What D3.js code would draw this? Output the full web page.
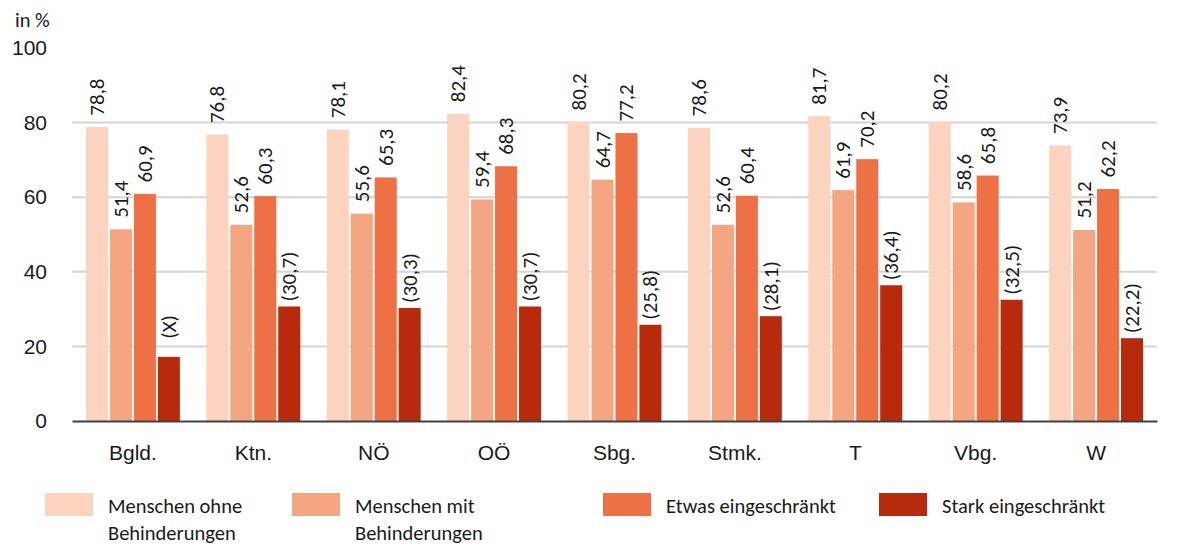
<!DOCTYPE html>
<html>
<head>
<meta charset="utf-8">
<script src="https://cdn.jsdelivr.net/npm/d3@7"></script>
<style>
  body { margin: 0; background: #fff; }
  svg { display: block; font-family: Carlito, Lato, "Open Sans", sans-serif; }
</style>
</head>
<body>
<svg id="chart" width="1197" height="546"></svg>
<script>
const categories = ["Bgld.", "Ktn.", "NÖ", "OÖ", "Sbg.", "Stmk.", "T", "Vbg.", "W"];
const seriesNames = ["Menschen ohne Behinderungen", "Menschen mit Behinderungen", "Etwas eingeschränkt", "Stark eingeschränkt"];
const legendLines = [["Menschen ohne", "Behinderungen"], ["Menschen mit", "Behinderungen"], ["Etwas eingeschränkt"], ["Stark eingeschränkt"]];
const ohne   = [78.8, 76.8, 78.1, 82.4, 80.2, 78.6, 81.7, 80.2, 73.9];
const mit    = [51.4, 52.6, 55.6, 59.4, 64.7, 52.6, 61.9, 58.6, 51.2];
const etwas  = [60.9, 60.3, 65.3, 68.3, 77.2, 60.4, 70.2, 65.8, 62.2];
const stark  = [17.2, 30.7, 30.3, 30.7, 25.8, 28.1, 36.4, 32.5, 22.2];
const starkLabels = ["(X)", "(30,7)", "(30,3)", "(30,7)", "(25,8)", "(28,1)", "(36,4)", "(32,5)", "(22,2)"];
const yTicks = [0, 20, 40, 60, 80, 100];
const colors = ["#FBD3BF", "#F4A582", "#EE7045", "#B72B0C"];

(function () {
const series = [ohne, mit, etwas, stark];
const fmt = v => v.toFixed(1).replace(".", ",");
const labelFor = (si, ci) => si === 3 ? starkLabels[ci] : fmt(series[si][ci]);
const ink = "#1a1a1a";

const svg = d3.select("#chart");
const mLeft = 72, mRight = 1157, mTop = 48, mBottom = 421;

const x = d3.scaleBand().domain(categories).range([mLeft, mRight]).paddingInner(0.22).paddingOuter(0.116);
const xs = d3.scaleBand().domain(d3.range(4)).range([0, x.bandwidth()]).paddingInner(0.08);
const y = d3.scaleLinear().domain([0, 100]).range([mBottom, mTop]);

// gridlines
svg.append("g").selectAll("line").data(yTicks.filter(t => t > 0 && t < 100)).join("line")
  .attr("x1", mLeft).attr("x2", mRight)
  .attr("y1", d => y(d)).attr("y2", d => y(d))
  .attr("stroke", "#d4d4d4").attr("stroke-width", 2);

// y tick labels
const yAxis = d3.axisLeft(y).tickValues(yTicks).tickSize(0).tickPadding(0).tickFormat(d3.format("d"));
const ya = svg.append("g").attr("transform", `translate(47,0)`).call(yAxis);
ya.select(".domain").remove();
ya.selectAll("text").attr("font-size", 21).attr("fill", ink).attr("font-family", null);

svg.append("text").attr("x", 15).attr("y", 27).attr("font-size", 20.5).attr("fill", ink).text("in %");

// bars
const groups = svg.append("g").selectAll("g").data(categories).join("g")
  .attr("transform", d => `translate(${x(d)},0)`);

groups.each(function(cat, ci) {
  const g = d3.select(this);
  const rows = d3.range(4).map(si => ({si, ci, v: series[si][ci]}));
  g.selectAll("rect").data(rows).join("rect")
    .attr("x", d => xs(d.si)).attr("width", xs.bandwidth())
    .attr("y", d => y(d.v)).attr("height", d => y(0) - y(d.v))
    .attr("fill", d => colors[d.si]);
  g.selectAll("text").data(rows).join("text")
    .attr("transform", d => `translate(${xs(d.si) + xs.bandwidth() / 2},${y(d.v) - 30}) rotate(-90)`)
    .attr("text-anchor", "middle").attr("dominant-baseline", "central")
    .attr("font-size", 21).attr("fill", ink)
    .text(d => labelFor(d.si, d.ci));
});

// x axis
const xAxis = d3.axisBottom(x).tickSize(0).tickPadding(0);
const xa = svg.append("g").attr("transform", `translate(0,${mBottom})`).call(xAxis);
xa.select(".domain").attr("stroke", "#404040").attr("stroke-width", 2);
xa.selectAll("text").attr("font-size", 21).attr("fill", ink).attr("font-family", null)
  .attr("dy", null).attr("y", 31).attr("dominant-baseline", "central");

// legend
const legendX = [45, 292, 603, 879];
const lg = svg.append("g").selectAll("g").data(seriesNames).join("g")
  .attr("transform", (d, i) => `translate(${legendX[i]},493)`);
lg.append("rect").attr("width", 48).attr("height", 23).attr("fill", (d, i) => colors[i]);
lg.each(function(d, i) {
  d3.select(this).selectAll("text").data(legendLines[i]).join("text")
    .attr("x", 63).attr("y", (t, j) => 13 + j * 27)
    .attr("dominant-baseline", "central")
    .attr("font-size", 20.5).attr("fill", ink).text(t => t);
});
})();
</script>
</body>
</html>
